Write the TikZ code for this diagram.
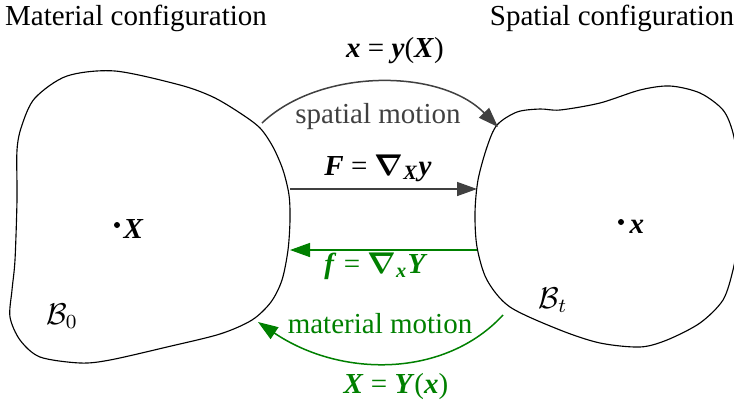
\documentclass[tikz,border=0pt]{standalone}
\usepackage{fontspec}
\usepackage{amsmath}
\setmainfont{Liberation Serif}
\usetikzlibrary{positioning,arrows.meta}
\definecolor{motiongreen}{RGB}{0,128,0}
\definecolor{motiongray}{RGB}{64,64,64}
\newcommand{\bv}[1]{\textbf{\textit{#1}}}

\begin{document}
\begin{tikzpicture}[
    x=0.4pt, y=-0.4pt,
    >={Triangle[length=8pt,width=5.6pt]},
    every node/.style={font=\fontsize{11.6}{14}\selectfont, inner sep=0pt},
    body/.style={draw, line width=0.45pt},
    ptdot/.style={circle, fill, inner sep=0pt, minimum size=2.4pt},
    spatialarr/.style={->, line width=0.6pt, draw=motiongray},
    materialarr/.style={->, line width=0.6pt, draw=motiongreen},
    greentext/.style={text=motiongreen}
]
\useasboundingbox (0,0) rectangle (734,408);

% the two bodies
\draw[body] plot[smooth cycle] coordinates {
    (115,71) (180,85) (213,97) (240,113) (260,128) (273,147) (283,170)
    (289,195) (290,220) (288,250) (282,280) (271,302) (252,320)
    (220,334) (167,347) (110,360) (80,363) (40,357) (20,340) (10,317)
    (12,290) (15,260) (17,200) (17,150) (22,125) (35,98) (67,76)};
\draw[body] plot[smooth cycle] coordinates {
    (497,125) (517,112) (540,109) (560,110) (600,103) (640,90) (670,86)
    (700,93) (723,110) (733,133) (739,170) (740,210) (737,245) (733,270)
    (723,300) (700,323) (667,340) (640,347) (600,343) (560,330) (510,307)
    (487,280) (477,247) (475,213) (478,180) (487,147)};

\node[anchor=base] (matconf) at (136,25) {Material configuration};
\node[anchor=base] (spaconf) at (612,25) {Spatial configuration};

\node (bodyref) at (62,316) {$\mathcal{B}_0$};
\node (bodycur) at (553,300) {$\mathcal{B}_t$};

\node[ptdot] (Xpt) at (117,225) {};
\node[anchor=base west] (Xlab) at (123,238) {\bv{X}};
\node[ptdot] (xpt) at (621,222) {};
\node[anchor=base west] (xlab) at (629,233) {\bv{x}};

% end points on the boundaries
\coordinate (smA) at (262,123);
\coordinate (smB) at (498,127);
\coordinate (gradA) at (290,189);
\coordinate (gradB) at (477,189);
\coordinate (invA) at (477,250);
\coordinate (invB) at (290,250);
\coordinate (mmA) at (503,315);
\coordinate (mmB) at (258,322);

\draw[spatialarr] (smA) .. controls (320,68) and (440,68) .. (smB);
\draw[spatialarr] (gradA) -- (gradB);
\draw[materialarr] (invA) -- (invB);
\draw[materialarr] (mmA) .. controls (445,378) and (341,378) .. (mmB);

\node[anchor=base] (ymap) at (395,57) {\bv{x} = \bv{y}(\bv{X})};
\node[anchor=base, text=motiongray] (smlabel) at (378,123) {spatial motion};
\node[anchor=base] (Flabel) at (378,175) {\bv{F} = $\boldsymbol{\nabla}$\textsubscript{\bv{X}}\bv{y}};
\node[anchor=base, greentext] (flabel) at (376,273) {\bv{f} = $\boldsymbol{\nabla}$\textsubscript{\bv{x}}\bv{Y}};
\node[anchor=base, greentext] (mmlabel) at (380,333) {material motion};
\node[anchor=base, greentext] (Ymap) at (396,393) {\bv{X} = \bv{Y}(\bv{x})};
\end{tikzpicture}
\end{document}
